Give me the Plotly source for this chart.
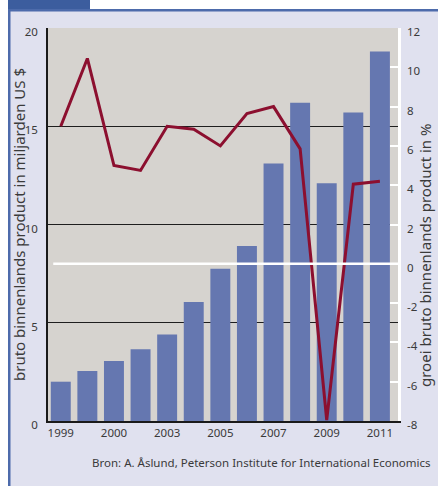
import plotly.graph_objects as go

years = ["1999", "2000", "2001", "2002", "2003", "2004", "2005",
         "2006", "2007", "2008", "2009", "2010", "2011"]
gdp_bn = [2.0, 2.55, 3.05, 3.65, 4.4, 6.05, 7.75, 8.9, 13.1, 16.2, 12.1, 15.7, 18.8]
growth_pct = [7.0, 10.45, 5.0, 4.75, 7.0, 6.85, 6.0, 7.65, 8.0, 5.85, -7.95, 4.05, 4.2]
tick_positions = ["1999", "2001", "2003", "2005", "2007", "2009", "2011"]
tick_labels = ["1999", "2000", "2003", "2005", "2007", "2009", "2011"]
left_ticks = [0, 5, 10, 15, 20]
right_ticks = [-8, -6, -4, -2, 0, 2, 4, 6, 8, 10, 12]
right_tick_text = [str(v) for v in right_ticks]

W, H = 438, 486
L, R, T, B = 48, 40, 28, 65
PW, PH = W - L - R, H - T - B


def px(x):
    return (x - L) / PW


def py(y):
    return (H - B - y) / PH


FONT = "Noto Sans"
TXT = "#3a3a3a"

fig = go.Figure()
fig.add_trace(go.Bar(x=years, y=gdp_bn, marker=dict(color="#6577b0", line=dict(width=0)),
                     yaxis="y", name="bbp"))
fig.add_trace(go.Scatter(x=years, y=growth_pct, mode="lines", yaxis="y2",
                         line=dict(color="#8c0f2f", width=3), name="groei"))

fig.update_layout(
    width=W, height=H,
    margin=dict(l=L, r=R, t=T, b=B, autoexpand=False),
    paper_bgcolor="#e0e1ef",
    plot_bgcolor="#d6d3cf",
    showlegend=False,
    bargap=0.25,
    font=dict(family=FONT, color=TXT, size=11),
    xaxis=dict(type="category", range=[-0.48, 12.68], tickmode="array",
               tickvals=tick_positions, ticktext=tick_labels, showgrid=False,
               showline=True, linecolor="#1a1a1a", linewidth=1.5, ticks="",
               tickfont=dict(size=11.5), zeroline=False),
    yaxis=dict(range=[0, 20], tickvals=left_ticks, showgrid=True, gridcolor="#1e1e1e",
               gridwidth=1.2, showline=True, linecolor="#1a1a1a", linewidth=1.5,
               ticks="", zeroline=False, ticklabelstandoff=6, ticklabelshift=4,
               tickfont=dict(size=11.5)),
    yaxis2=dict(range=[-8, 12], tickvals=right_ticks, ticktext=right_tick_text,
                overlaying="y", side="right",
                showgrid=False, zeroline=False, showline=True, linecolor="white",
                linewidth=2.5, ticks="inside", ticklen=8, tickwidth=2, tickcolor="white",
                ticklabelstandoff=4, ticklabelshift=4, tickfont=dict(size=11.5)),
)

# white zero line of the growth axis, drawn above the bars
fig.add_shape(type="line", xref="x domain", yref="y2", x0=0.015, x1=1, y0=0, y1=0,
              line=dict(color="white", width=2.5), layer="above")

# frame: white margins, blue tab and blue border lines
shapes = [
    (0, 0, W, 9, "white"),
    (0, 0, 8, H, "white"),
    (8, 0, 90, 10, "#3c5d9e"),
    (8, 9, W, 11.5, "#4d6bab"),
    (8, 9, 10.5, H, "#4d6bab"),
]
for x0, y0, x1, y1, c in shapes:
    fig.add_shape(type="rect", xref="paper", yref="paper", x0=px(x0), x1=px(x1),
                  y0=py(y1), y1=py(y0), fillcolor=c, line=dict(width=0), layer="above")

fig.add_annotation(text="bruto binnenlands product in miljarden US $", xref="paper", yref="paper",
                   x=px(19), y=py(225), textangle=-90, showarrow=False,
                   xanchor="center", yanchor="middle",
                   font=dict(size=15, family=FONT, color=TXT))
fig.add_annotation(text="groei bruto binnenlands product in %", xref="paper", yref="paper",
                   x=px(425), y=py(256), textangle=-90, showarrow=False,
                   xanchor="center", yanchor="middle",
                   font=dict(size=15, family=FONT, color=TXT))
fig.add_annotation(text="Bron: A. Åslund, Peterson Institute for International Economics",
                   xref="paper", yref="paper", x=px(433), y=py(462), xanchor="right",
                   yanchor="middle", showarrow=False,
                   font=dict(size=11.5, family=FONT, color=TXT))

fig.write_html("out.html", config={"displayModeBar": False},
               post_script="document.body.style.margin='0';")
